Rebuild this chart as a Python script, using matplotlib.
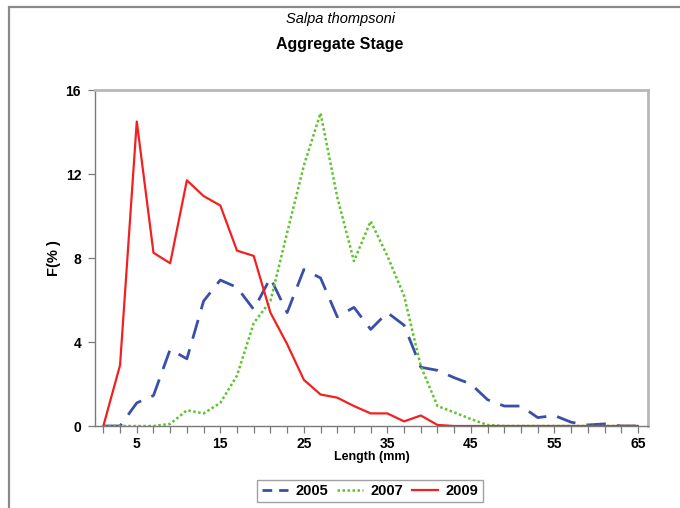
import matplotlib
matplotlib.use("Agg")
import matplotlib.pyplot as plt
from matplotlib.patches import Rectangle

# Length classes (mm) and frequency (%) per year
lengths = list(range(1, 67, 2))

f_2005 = [0, 0, 1.1, 1.45, 3.65, 3.2, 5.95, 6.95, 6.6, 5.55, 7.05, 5.4,
          7.45, 7.05, 5.2, 5.65, 4.6, 5.4, 4.8, 2.8, 2.65, 2.3, 2.0, 1.25,
          0.95, 0.95, 0.4, 0.5, 0.18, 0.05, 0.1, 0.0, 0.0]
f_2007 = [0, 0, 0, 0, 0.1, 0.75, 0.6, 1.1, 2.4, 4.9, 5.95, 9.2,
          12.4, 14.9, 10.9, 7.85, 9.75, 8.1, 6.2, 2.85, 0.95, 0.65, 0.33, 0.05,
          0, 0, 0, 0, 0, 0, 0, 0, 0]
f_2009 = [0, 2.9, 14.5, 8.25, 7.75, 11.7, 10.95, 10.5, 8.35, 8.1, 5.4, 3.9,
          2.2, 1.5, 1.35, 0.95, 0.6, 0.6, 0.22, 0.5, 0.05, 0, 0, 0,
          0, 0, 0, 0, 0, 0, 0, 0, 0]

years = ["2005", "2007", "2009"]
x_labels = [5, 15, 25, 35, 45, 55, 65]
y_ticks = [0, 4, 8, 12, 16]

plt.rcParams["font.family"] = ["Liberation Sans", "DejaVu Sans"]

fig = plt.figure(figsize=(6.8, 5.08), dpi=100)

# outer chart frame (cropped on the right and bottom)
fig.patches.append(Rectangle((9 / 680, -0.1), 1.2, 1 - 7 / 508 + 0.1,
                             transform=fig.transFigure, fill=False,
                             edgecolor="#8a8a8a", linewidth=1.6))

ax = fig.add_axes([95 / 680, 1 - 426 / 508, (648 - 95) / 680, (426 - 90) / 508])

ax.plot(lengths, f_2005, color="#3a4fa8", linewidth=2.0, dashes=(7, 4), label=years[0])
ax.plot(lengths, f_2007, color="#5cc42a", linewidth=1.8, linestyle=(0, (1, 1)), label=years[1])
ax.plot(lengths, f_2009, color="#f42020", linewidth=1.6, label=years[2])

ax.set_xlim(0, 66.2)
ax.set_ylim(0, 16)
ax.set_xticks(lengths)
ax.set_xticklabels([str(v) if v in x_labels else "" for v in lengths],
                   fontsize=10, fontweight="bold")
ax.set_yticks(y_ticks)
ax.set_yticklabels([str(v) for v in y_ticks], fontsize=10, fontweight="bold")
ax.tick_params(axis="both", direction="out", length=5, color="#7a7a7a", width=0.9)
ax.tick_params(axis="y", pad=5)
ax.tick_params(axis="x", pad=3)

for side in ["left", "bottom"]:
    ax.spines[side].set_color("#7a7a7a")
    ax.spines[side].set_linewidth(1.0)
for side in ["top", "right"]:
    ax.spines[side].set_color("#b8b8b8")
    ax.spines[side].set_linewidth(2.0)

ax.set_xlabel("Length (mm)", fontsize=9, fontweight="bold", labelpad=0)
ax.set_ylabel("F(% )", fontsize=10.5, fontweight="bold", labelpad=3)

fig.text(0.5, 1 - 19 / 508, "Salpa thompsoni", ha="center", va="center",
         fontsize=10.5, style="italic")
fig.text(0.5, 1 - 45 / 508, "Aggregate Stage", ha="center", va="center",
         fontsize=11.5, fontweight="bold")

leg = fig.legend(loc="center", bbox_to_anchor=(370 / 680, 1 - 491 / 508), ncol=3,
                 frameon=True, fancybox=False, edgecolor="#8a8a8a",
                 prop={"weight": "bold", "size": 10.5}, handlelength=1.8,
                 handletextpad=0.5, columnspacing=0.6, borderpad=0.3)
leg.get_frame().set_linewidth(1.0)
leg.get_lines()[0].set_dashes((3.5, 2.5))

fig.savefig("out.png", dpi=100)
